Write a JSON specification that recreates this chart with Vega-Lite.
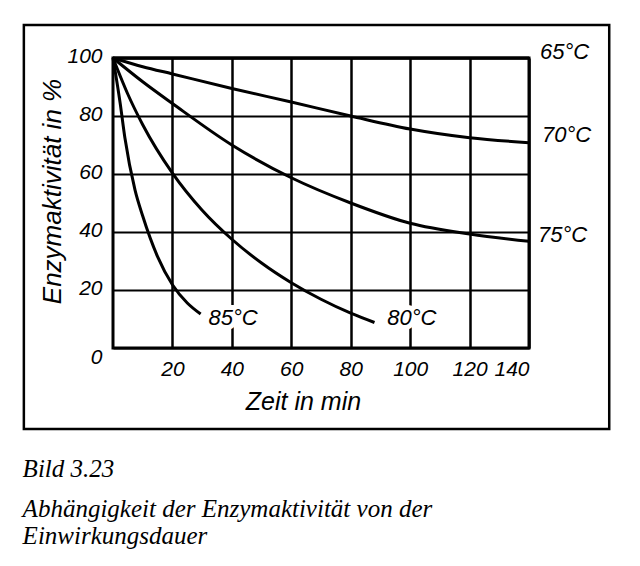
{
  "$schema": "https://vega.github.io/schema/vega-lite/v6.json",
  "width": 416,
  "height": 290,
  "autosize": {"type": "none"},
  "padding": {"left": 113, "top": 58, "right": 111, "bottom": 218},
  "background": "white",
  "datasets": {
    "curves": [
      {"s": "65", "t": 0, "a": 100}, {"s": "65", "t": 140, "a": 100},
      {"s": "70", "t": 0, "a": 100}, {"s": "70", "t": 10, "a": 97}, {"s": "70", "t": 20, "a": 94.5}, {"s": "70", "t": 40, "a": 89.5}, {"s": "70", "t": 60, "a": 84.8}, {"s": "70", "t": 80, "a": 80}, {"s": "70", "t": 100, "a": 75.5}, {"s": "70", "t": 120, "a": 72.5}, {"s": "70", "t": 140, "a": 70.8},
      {"s": "75", "t": 0, "a": 100}, {"s": "75", "t": 10, "a": 91.8}, {"s": "75", "t": 20, "a": 84.3}, {"s": "75", "t": 40, "a": 70}, {"s": "75", "t": 60, "a": 58.7}, {"s": "75", "t": 80, "a": 50}, {"s": "75", "t": 100, "a": 43}, {"s": "75", "t": 120, "a": 39.3}, {"s": "75", "t": 140, "a": 36.8},
      {"s": "80", "t": 0, "a": 100}, {"s": "80", "t": 5, "a": 87.5}, {"s": "80", "t": 10, "a": 77}, {"s": "80", "t": 20, "a": 60.3}, {"s": "80", "t": 30, "a": 47.5}, {"s": "80", "t": 40, "a": 37.5}, {"s": "80", "t": 50, "a": 29.3}, {"s": "80", "t": 60, "a": 22.5}, {"s": "80", "t": 70, "a": 16.8}, {"s": "80", "t": 80, "a": 12}, {"s": "80", "t": 88, "a": 8.8},
      {"s": "85", "t": 0, "a": 100}, {"s": "85", "t": 2.4, "a": 84.5}, {"s": "85", "t": 4, "a": 72.5}, {"s": "85", "t": 7.4, "a": 54.5}, {"s": "85", "t": 10, "a": 45.5}, {"s": "85", "t": 15, "a": 31.5}, {"s": "85", "t": 20, "a": 21.8}, {"s": "85", "t": 25, "a": 15.5}, {"s": "85", "t": 29.5, "a": 11.7}
    ],
    "labels": [
      {"lab": "65°C", "t": 143.7, "a": 102, "side": "right"},
      {"lab": "70°C", "t": 144.4, "a": 73.3, "side": "right"},
      {"lab": "75°C", "t": 143, "a": 38.8, "side": "right"},
      {"lab": "85°C", "t": 40.4, "a": 10.2, "side": "inside"},
      {"lab": "80°C", "t": 100.6, "a": 10.5, "side": "inside"}
    ]
  },
  "title": {
    "text": "Bild 3.23",
    "subtitle": ["Abhängigkeit der Enzymaktivität von der", "Einwirkungsdauer"],
    "orient": "bottom",
    "anchor": "start",
    "frame": "bounds",
    "offset": 27,
    "font": "Liberation Serif",
    "fontStyle": "italic",
    "fontWeight": "normal",
    "fontSize": 25,
    "color": "black",
    "subtitleFont": "Liberation Serif",
    "subtitleFontStyle": "italic",
    "subtitleFontSize": 25,
    "subtitleColor": "black",
    "subtitleLineHeight": 27,
    "subtitlePadding": 15
  },
  "config": {
    "view": {"stroke": "black", "strokeWidth": 3},
    "axis": {
      "labelFont": "Liberation Sans",
      "labelFontStyle": "italic",
      "labelFontSize": 21,
      "labelColor": "black",
      "titleFont": "Liberation Sans",
      "titleFontStyle": "italic",
      "titleFontWeight": "normal",
      "titleFontSize": 25,
      "titleColor": "black",
      "domain": false,
      "ticks": false,
      "gridColor": "black",
      "gridOpacity": 1
    }
  },
  "layer": [
    {
      "data": {"name": "curves"},
      "mark": {"type": "line", "interpolate": "monotone", "stroke": "black", "strokeWidth": 3},
      "encoding": {
        "x": {
          "field": "t", "type": "quantitative",
          "scale": {"domain": [0, 140], "nice": false, "zero": false},
          "axis": {
            "values": [20, 40, 60, 80, 100, 120, 140],
            "grid": true, "gridWidth": 2.5,
            "labelPadding": 10,
            "title": "Zeit in min",
            "titleX": 190, "titleY": 61, "titleBaseline": "alphabetic", "titleAlign": "center"
          }
        },
        "y": {
          "field": "a", "type": "quantitative",
          "scale": {"domain": [0, 100], "nice": false},
          "axis": {
            "values": [0, 10, 20, 30, 40, 50, 60, 70, 80, 90, 100],
            "grid": true, "gridWidth": 2,
            "labelExpr": "datum.value % 20 === 0 ? datum.label : ''",
            "labelPadding": 11,
            "labelOffset": {"condition": {"test": "datum.value === 0", "value": 9}, "value": -2},
            "title": "Enzymaktivität in %",
            "titleFontSize": 26,
            "titleX": -53, "titleY": 133, "titleBaseline": "alphabetic", "titleAlign": "center", "titleAngle": -90
          }
        },
        "detail": {"field": "s"}
      }
    },
    {
      "data": {"name": "labels"},
      "transform": [{"filter": "datum.side === 'inside'"}],
      "mark": {"type": "text", "font": "Liberation Sans", "fontStyle": "italic", "fontSize": 22, "baseline": "middle", "align": "center", "stroke": "white", "strokeWidth": 10, "fill": "white"},
      "encoding": {
        "x": {"field": "t", "type": "quantitative"},
        "y": {"field": "a", "type": "quantitative"},
        "text": {"field": "lab"}
      }
    },
    {
      "data": {"name": "labels"},
      "transform": [{"filter": "datum.side === 'inside'"}],
      "mark": {"type": "text", "font": "Liberation Sans", "fontStyle": "italic", "fontSize": 22, "baseline": "middle", "align": "center", "fill": "black"},
      "encoding": {
        "x": {"field": "t", "type": "quantitative"},
        "y": {"field": "a", "type": "quantitative"},
        "text": {"field": "lab"}
      }
    },
    {
      "data": {"name": "labels"},
      "transform": [{"filter": "datum.side === 'right'"}],
      "mark": {"type": "text", "font": "Liberation Sans", "fontStyle": "italic", "fontSize": 22, "baseline": "middle", "align": "left", "fill": "black"},
      "encoding": {
        "x": {"field": "t", "type": "quantitative"},
        "y": {"field": "a", "type": "quantitative"},
        "text": {"field": "lab"}
      }
    },
    {
      "data": {"values": [{}]},
      "mark": {"type": "rect", "fill": null, "fillOpacity": 0, "stroke": "black", "strokeWidth": 2.5, "clip": false},
      "encoding": {
        "x": {"datum": -30}, "x2": {"datum": 167},
        "y": {"datum": 111.4}, "y2": {"datum": -27.9}
      }
    }
  ]
}
